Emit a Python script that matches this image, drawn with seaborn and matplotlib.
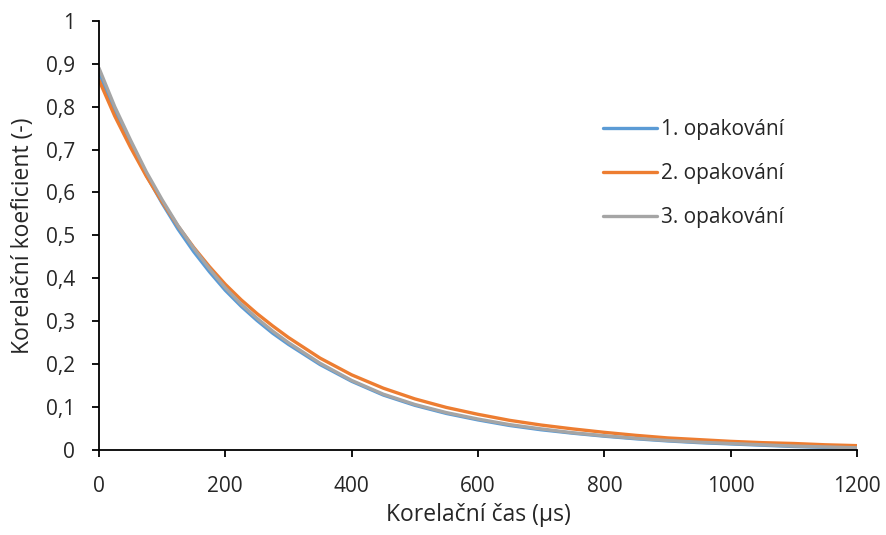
import numpy as np
import pandas as pd
import seaborn as sns
import matplotlib
matplotlib.use("Agg")
import matplotlib.pyplot as plt

# Correlation time (µs)
cas = [0, 25, 50, 75, 100, 125, 150, 175, 200, 225, 250, 275, 300, 350, 400, 450,
       500, 550, 600, 650, 700, 750, 800, 850, 900, 950, 1000, 1050, 1100, 1150, 1200]

# Correlation coefficient for each repetition
opakovani_1 = [0.880, 0.790, 0.712, 0.640, 0.575, 0.515, 0.462, 0.415, 0.372, 0.335,
               0.302, 0.272, 0.246, 0.199, 0.160, 0.128, 0.104, 0.085, 0.070, 0.057,
               0.047, 0.039, 0.032, 0.026, 0.021, 0.017, 0.014, 0.011, 0.008, 0.006,
               0.004]
opakovani_2 = [0.862, 0.778, 0.705, 0.638, 0.578, 0.522, 0.472, 0.427, 0.386, 0.350,
               0.318, 0.289, 0.262, 0.214, 0.175, 0.144, 0.119, 0.099, 0.083, 0.069,
               0.058, 0.049, 0.041, 0.034, 0.028, 0.024, 0.020, 0.017, 0.015, 0.012,
               0.010]
opakovani_3 = [0.890, 0.800, 0.722, 0.648, 0.583, 0.523, 0.470, 0.422, 0.378, 0.340,
               0.307, 0.277, 0.250, 0.202, 0.162, 0.130, 0.106, 0.087, 0.072, 0.059,
               0.049, 0.040, 0.033, 0.027, 0.022, 0.018, 0.015, 0.012, 0.009, 0.007,
               0.005]

nazvy = ["1. opakování", "2. opakování", "3. opakování"]
barvy = ["#5B9BD5", "#ED7D31", "#A5A5A5"]

df = pd.concat([
    pd.DataFrame({"cas": cas, "koef": hodnoty, "serie": nazev})
    for nazev, hodnoty in zip(nazvy, [opakovani_1, opakovani_2, opakovani_3])
])

sns.set_theme(style="white")
plt.rcParams["font.family"] = ["Open Sans", "DejaVu Sans"]

text_barva = "#262626"

fig = plt.figure(figsize=(8.86, 5.35), dpi=100)
ax = fig.add_axes([0.1117, 0.159, 0.8556, 0.802])

sns.lineplot(data=df, x="cas", y="koef", hue="serie", palette=barvy,
             hue_order=nazvy, linewidth=2.4, ax=ax, legend=True)

ax.set_xlim(0, 1200)
ax.set_ylim(0, 1)
ax.set_xticks(np.arange(0, 1201, 200))
yt = np.round(np.arange(0, 1.01, 0.1), 1)
ax.set_yticks(yt)
ax.set_yticklabels(["0" if v == 0 else ("1" if v == 1 else f"{v:.1f}".replace(".", ","))
                    for v in yt])

for side in ["top", "right"]:
    ax.spines[side].set_visible(False)
for side in ["left", "bottom"]:
    ax.spines[side].set_color("black")
    ax.spines[side].set_linewidth(1.3)

ax.tick_params(axis="both", which="major", direction="out", length=5, width=1.3,
               color="black", labelsize=15, labelcolor=text_barva,
               bottom=True, left=True)
ax.tick_params(axis="x", pad=14)
ax.tick_params(axis="y", pad=12)

ax.set_xlabel("Korelační čas (µs)", fontsize=16.5, color=text_barva, labelpad=4)
ax.set_ylabel("Korelační koeficient (-)", fontsize=16.5, color=text_barva, labelpad=8)

leg = ax.legend(loc="upper left", bbox_to_anchor=(0.64, 0.815), frameon=False,
                fontsize=15, labelspacing=1.1, handlelength=2.6,
                handletextpad=0.2)
for t in leg.get_texts():
    t.set_color(text_barva)
for h in leg.get_lines():
    h.set_linewidth(2.4)

fig.savefig("out.png", dpi=100)
